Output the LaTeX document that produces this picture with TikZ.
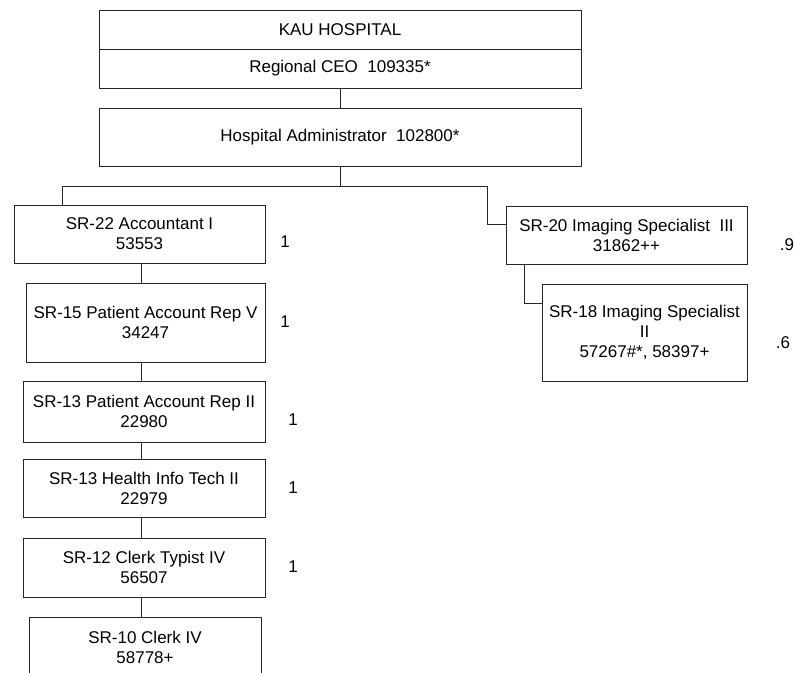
\documentclass[tikz,border=0pt]{standalone}
\usepackage{fontspec}
\setmainfont{Liberation Sans}
\begin{document}
\begin{tikzpicture}[x=1pt,y=-1pt,
  box/.style={draw=black!85, line width=0.9pt, align=center, inner sep=0pt, font=\fontsize{17}{20}\selectfont},
  conn/.style={draw=black!85, line width=0.9pt},
  fte/.style={font=\fontsize{17}{20}\selectfont, inner sep=0pt}]
\useasboundingbox (0,0) rectangle (794,672);
\clip (0,0) rectangle (794,672);
% top
\node[box, minimum width=482pt, minimum height=39pt] (kau) at (340,29.5) {KAU HOSPITAL};
\node[box, minimum width=482pt, minimum height=39pt] (ceo) at (340,68.5) {Regional CEO~ 109335*};
\node[box, minimum width=482pt, minimum height=58pt] (admin) at (340,137) {Hospital Administrator~ 102800*};
% left column
\node[box, minimum width=251pt, minimum height=58pt] (sr22) at (139.5,234) {SR-22 Accountant I\\53553};
\node[box, minimum width=239pt, minimum height=79pt] (sr15) at (145.5,322.5) {SR-15 Patient Account Rep V\\34247};
\node[box, minimum width=242pt, minimum height=61pt] (sr13a) at (144,411.5) {SR-13 Patient Account Rep II\\22980};
\node[box, minimum width=242pt, minimum height=58pt] (sr13b) at (144,488) {SR-13 Health Info Tech II\\22979};
\node[box, minimum width=242pt, minimum height=59pt] (sr12) at (144,567.5) {SR-12 Clerk Typist IV\\56507};
\node[box, minimum width=232pt, minimum height=60pt] (sr10) at (145,647) {SR-10 Clerk IV\\58778+};
% right column
\node[box, minimum width=241pt, minimum height=58pt] (sr20) at (626.5,235) {SR-20 Imaging Specialist~ III\\31862++};
\node[box, minimum width=205pt, minimum height=97pt] (sr18) at (644.5,332.5) {SR-18 Imaging Specialist\\II\\57267\#*, 58397+};
% FTE labels
\node[fte] (f1) at (285,242) {1};
\node[fte] (f2) at (285,322) {1};
\node[fte] (f3) at (293,420) {1};
\node[fte] (f4) at (293,488) {1};
\node[fte] (f5) at (293,567) {1};
\node[fte] (f6) at (787,245) {.9};
\node[fte] (f7) at (783,343) {.6};
% connectors
\draw[conn] (ceo.south) -- (admin.north);
\coordinate (hub) at (340,186);
\coordinate (lt) at (62,186);
\coordinate (rt) at (487,186);
\coordinate (rb) at (487,224);
\draw[conn] (admin.south) -- (hub);
\draw[conn] (hub) -- (lt) -- (lt |- sr22.north);
\draw[conn] (hub) -- (rt) -- (rb) -- (rb -| sr20.west);
\coordinate (s18) at (524,303);
\draw[conn] (s18 |- sr20.south) -- (s18) -- (s18 -| sr18.west);
\coordinate (cx) at (141,0);
\draw[conn] (sr22.south -| cx) -- (sr15.north -| cx);
\draw[conn] (sr15.south -| cx) -- (sr13a.north -| cx);
\draw[conn] (sr13a.south -| cx) -- (sr13b.north -| cx);
\draw[conn] (sr13b.south -| cx) -- (sr12.north -| cx);
\draw[conn] (sr12.south -| cx) -- (sr10.north -| cx);
\end{tikzpicture}
\end{document}
